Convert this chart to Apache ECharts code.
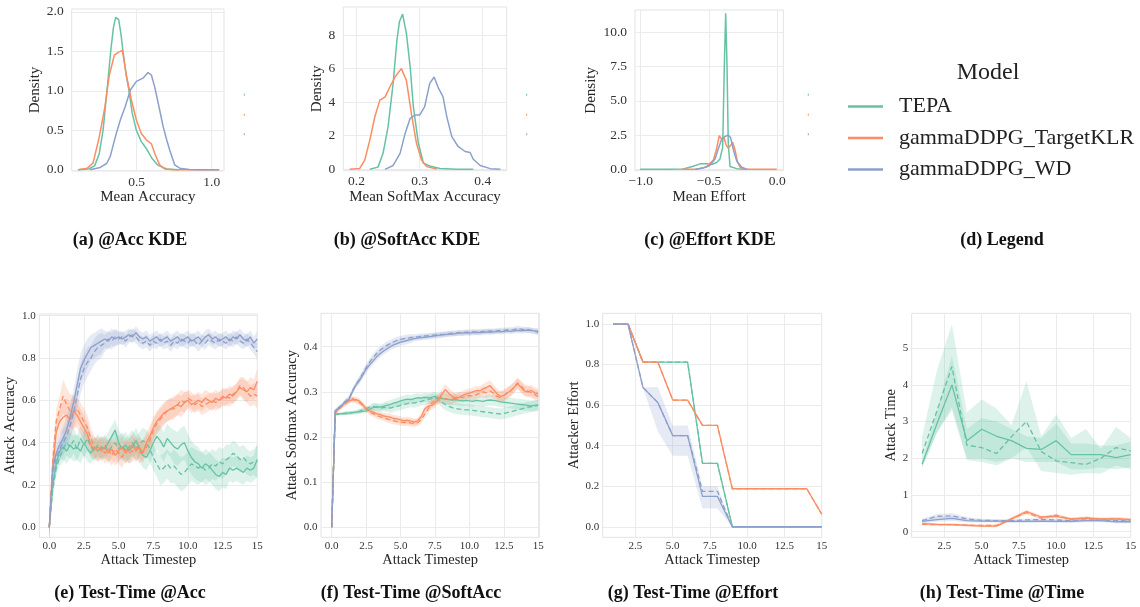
<!DOCTYPE html>
<html><head><meta charset="utf-8">
<script src="https://cdn.jsdelivr.net/npm/echarts@6/dist/echarts.min.js"></script>
<style>html,body{margin:0;padding:0;background:#fff}#c{width:1140px;height:607px}</style>
</head><body><div id="c"></div><script>
// ---------------- DATA ----------------
const models = ['TEPA', 'gammaDDPG_TargetKLR', 'gammaDDPG_WD'];

// (a) KDE of Mean Accuracy
const accKdeX_TEPA = [0.11,0.18,0.22,0.25,0.276,0.302,0.327,0.345,0.36,0.369,0.38,0.395,0.409,0.43,0.449,0.47,0.498,0.53,0.564,0.6,0.64,0.7,0.78];
const accKdeY_TEPA = [0,0.01,0.05,0.2,0.5,1.0,1.5,1.8,1.93,1.95,1.9,1.72,1.5,1.2,1.0,0.72,0.5,0.36,0.27,0.15,0.06,0.01,0];
const accKdeX_KLR = [0.11,0.17,0.209,0.249,0.287,0.318,0.351,0.38,0.405,0.431,0.464,0.498,0.531,0.564,0.598,0.62,0.653,0.687,0.75,0.9,1.05];
const accKdeY_KLR = [0,0.02,0.085,0.4,0.78,1.2,1.45,1.49,1.51,1.2,0.89,0.63,0.46,0.38,0.33,0.21,0.063,0.01,0.002,0,0];
const accKdeX_WD = [0.19,0.257,0.3,0.324,0.364,0.391,0.424,0.458,0.498,0.542,0.576,0.598,0.62,0.653,0.676,0.7,0.72,0.753,0.787,0.85,0.95,1.05];
const accKdeY_WD = [0,0.03,0.08,0.17,0.46,0.63,0.8,1.01,1.12,1.16,1.23,1.2,1.05,0.76,0.55,0.38,0.25,0.063,0.02,0.005,0,0];
const accKdeXTicks = [0.5, 1.0];
const accKdeYTicks = [0, 0.5, 1.0, 1.5, 2.0];

// (b) KDE of Mean SoftMax Accuracy
const softKdeX_TEPA = [0.221,0.234,0.242,0.25,0.258,0.264,0.268,0.273,0.279,0.285,0.29,0.298,0.306,0.316,0.332,0.36,0.385];
const softKdeY_TEPA = [0,0.13,0.95,2.54,5.12,7.7,8.8,9.25,8.1,6.1,3.73,1.55,0.36,0.2,0.05,0.01,0];
const softKdeX_KLR = [0.189,0.205,0.213,0.221,0.229,0.237,0.245,0.253,0.261,0.271,0.279,0.287,0.295,0.303,0.311,0.327];
const softKdeY_KLR = [0,0.05,0.55,1.74,3.13,4.12,4.3,4.92,5.5,6.0,5.3,3.3,1.55,0.55,0.16,0.02];
const softKdeX_WD = [0.245,0.258,0.269,0.277,0.285,0.293,0.3,0.308,0.316,0.323,0.33,0.337,0.343,0.351,0.361,0.372,0.38,0.385,0.396,0.412,0.428];
const softKdeY_WD = [0,0.23,0.95,2.14,3.04,3.23,3.23,3.73,5.12,5.5,4.82,4.33,3.14,1.95,1.36,1.06,1.0,0.6,0.23,0.04,0];
const softKdeXTicks = [0.2, 0.3, 0.4];
const softKdeYTicks = [0, 2, 4, 6, 8];

// (c) KDE of Mean Effort
const effKdeX_TEPA = [-1.005,-0.8,-0.688,-0.615,-0.566,-0.517,-0.48,-0.444,-0.42,-0.4,-0.388,-0.378,-0.368,-0.359,-0.346,-0.297,-0.224];
const effKdeY_TEPA = [0,0.01,0.02,0.23,0.4,0.4,0.35,0.5,0.75,1.6,7.5,11.4,7.5,1.9,0.2,0.05,0];
const effKdeX_KLR = [-0.7,-0.59,-0.517,-0.468,-0.444,-0.425,-0.407,-0.39,-0.376,-0.36,-0.341,-0.327,-0.31,-0.293,-0.273,-0.26,-0.236,-0.15,-0.004];
const effKdeY_KLR = [0,0.01,0.18,0.67,1.53,2.45,2.2,2.3,1.8,1.55,1.75,1.97,1.45,0.6,0.15,0.22,0,0,0];
const effKdeX_WD = [-0.6,-0.542,-0.493,-0.456,-0.432,-0.407,-0.383,-0.359,-0.341,-0.322,-0.297,-0.26,-0.22];
const effKdeY_WD = [0,0.1,0.3,0.75,1.5,2.2,2.4,2.5,2.3,1.45,0.6,0.15,0];
const effKdeXTicks = [-1.0, -0.5, 0.0];
const effKdeYTicks = [0, 2.5, 5.0, 7.5, 10.0];

// (e),(f) fine timesteps
const fineSteps = [0,0.25,0.5,0.75,1,1.25,1.5,1.75,2,2.25,2.5,2.75,3,3.25,3.5,3.75,4,4.25,4.5,4.75,5,5.25,5.5,5.75,6,6.25,6.5,6.75,7,7.25,7.5,7.75,8,8.25,8.5,8.75,9,9.25,9.5,9.75,10,10.25,10.5,10.75,11,11.25,11.5,11.75,12,12.25,12.5,12.75,13,13.25,13.5,13.75,14,14.25,14.5,14.75,15];

// (e) Attack Accuracy
const accTEPA = [0,0.2,0.3,0.36,0.38,0.36,0.39,0.37,0.38,0.36,0.4,0.37,0.35,0.38,0.36,0.38,0.37,0.4,0.43,0.46,0.4,0.37,0.39,0.36,0.38,0.41,0.37,0.34,0.33,0.36,0.4,0.43,0.41,0.38,0.42,0.4,0.38,0.37,0.39,0.4,0.36,0.33,0.31,0.3,0.28,0.3,0.29,0.27,0.25,0.24,0.26,0.25,0.28,0.27,0.28,0.27,0.26,0.28,0.27,0.28,0.32];
const accTEPA_d = [0,0.18,0.28,0.33,0.37,0.4,0.38,0.41,0.37,0.42,0.39,0.42,0.38,0.36,0.39,0.37,0.39,0.36,0.38,0.4,0.37,0.39,0.36,0.38,0.4,0.37,0.39,0.41,0.4,0.37,0.33,0.3,0.27,0.28,0.3,0.28,0.29,0.27,0.25,0.26,0.28,0.3,0.29,0.28,0.29,0.27,0.28,0.3,0.29,0.31,0.3,0.32,0.33,0.35,0.34,0.32,0.33,0.31,0.3,0.31,0.31];
const accKLR = [0,0.28,0.45,0.5,0.52,0.53,0.51,0.55,0.53,0.5,0.47,0.44,0.39,0.37,0.38,0.36,0.38,0.35,0.37,0.34,0.36,0.38,0.35,0.37,0.39,0.36,0.38,0.35,0.4,0.43,0.47,0.5,0.52,0.54,0.55,0.56,0.57,0.58,0.57,0.59,0.6,0.58,0.59,0.6,0.59,0.61,0.6,0.59,0.61,0.6,0.62,0.61,0.63,0.62,0.64,0.66,0.65,0.64,0.66,0.65,0.69];
const accKLR_d = [0,0.32,0.5,0.56,0.62,0.58,0.55,0.54,0.56,0.53,0.5,0.47,0.42,0.38,0.36,0.38,0.35,0.37,0.34,0.37,0.35,0.33,0.37,0.35,0.36,0.38,0.35,0.37,0.38,0.41,0.46,0.49,0.51,0.53,0.55,0.56,0.56,0.58,0.6,0.59,0.61,0.6,0.58,0.59,0.57,0.58,0.59,0.6,0.59,0.6,0.61,0.62,0.61,0.63,0.64,0.67,0.66,0.64,0.62,0.63,0.62];
const accWD = [0,0.28,0.35,0.39,0.42,0.46,0.52,0.59,0.67,0.75,0.79,0.82,0.85,0.86,0.87,0.88,0.89,0.88,0.9,0.89,0.9,0.89,0.9,0.91,0.9,0.92,0.9,0.89,0.9,0.88,0.89,0.9,0.88,0.89,0.9,0.88,0.89,0.9,0.88,0.89,0.9,0.88,0.89,0.9,0.88,0.9,0.91,0.89,0.9,0.88,0.89,0.9,0.88,0.9,0.89,0.91,0.89,0.88,0.9,0.87,0.89];
const accWD_d = [0,0.25,0.33,0.37,0.4,0.43,0.48,0.54,0.62,0.7,0.75,0.78,0.8,0.83,0.85,0.86,0.87,0.89,0.88,0.9,0.89,0.9,0.88,0.9,0.91,0.9,0.88,0.87,0.88,0.86,0.88,0.87,0.89,0.87,0.88,0.86,0.88,0.87,0.89,0.88,0.87,0.89,0.88,0.86,0.88,0.87,0.89,0.88,0.87,0.89,0.88,0.87,0.89,0.88,0.9,0.88,0.87,0.89,0.87,0.85,0.83];
const accHalfBand_TEPA = [0.04,0.06,0.06,0.05,0.05,0.06,0.06,0.06,0.07,0.08,0.08,0.07,0.07,0.06,0.06,0.08];
const accHalfBand_KLR = [0.06,0.08,0.06,0.05,0.05,0.05,0.05,0.05,0.05,0.05,0.04,0.04,0.04,0.04,0.05,0.06];
const accHalfBand_WD = [0.05,0.06,0.07,0.06,0.04,0.03,0.03,0.03,0.03,0.03,0.03,0.03,0.03,0.03,0.03,0.04];
const timeXTicks0 = [0, 2.5, 5, 7.5, 10, 12.5, 15];
const accYTicks = [0, 0.2, 0.4, 0.6, 0.8, 1.0];

// (f) Attack Softmax Accuracy
const softTEPA = [0,0.25,0.251,0.252,0.253,0.253,0.254,0.255,0.256,0.257,0.258,0.262,0.265,0.267,0.266,0.268,0.27,0.272,0.275,0.277,0.28,0.282,0.284,0.283,0.285,0.287,0.286,0.288,0.287,0.288,0.29,0.287,0.285,0.284,0.283,0.282,0.283,0.281,0.28,0.281,0.28,0.279,0.281,0.28,0.279,0.281,0.282,0.281,0.28,0.278,0.277,0.276,0.275,0.274,0.273,0.272,0.271,0.27,0.269,0.27,0.271];
const softTEPA_d = [0,0.25,0.251,0.252,0.252,0.253,0.254,0.255,0.257,0.26,0.263,0.266,0.268,0.266,0.264,0.265,0.266,0.264,0.266,0.268,0.27,0.272,0.274,0.276,0.275,0.277,0.279,0.281,0.283,0.285,0.287,0.283,0.277,0.272,0.268,0.265,0.263,0.262,0.261,0.26,0.26,0.259,0.258,0.257,0.256,0.255,0.254,0.253,0.252,0.251,0.252,0.254,0.256,0.258,0.26,0.262,0.264,0.266,0.267,0.268,0.27];
const softKLR = [0,0.255,0.262,0.27,0.277,0.28,0.282,0.283,0.28,0.272,0.262,0.258,0.255,0.252,0.25,0.247,0.245,0.244,0.241,0.24,0.238,0.236,0.237,0.235,0.233,0.236,0.245,0.262,0.268,0.27,0.275,0.283,0.295,0.305,0.297,0.29,0.285,0.288,0.292,0.295,0.297,0.3,0.303,0.302,0.306,0.31,0.314,0.305,0.296,0.29,0.292,0.298,0.302,0.31,0.318,0.31,0.302,0.3,0.303,0.298,0.296];
const softKLR_d = [0,0.253,0.26,0.268,0.274,0.28,0.285,0.281,0.277,0.27,0.262,0.255,0.252,0.248,0.245,0.243,0.24,0.238,0.236,0.234,0.233,0.232,0.233,0.231,0.23,0.232,0.238,0.25,0.262,0.275,0.28,0.285,0.288,0.286,0.283,0.285,0.288,0.29,0.287,0.29,0.292,0.29,0.294,0.297,0.3,0.298,0.302,0.297,0.29,0.288,0.292,0.297,0.303,0.31,0.32,0.313,0.305,0.302,0.298,0.294,0.29];
const softWD = [0,0.258,0.264,0.27,0.278,0.283,0.3,0.315,0.325,0.337,0.35,0.36,0.368,0.377,0.384,0.39,0.395,0.4,0.404,0.407,0.41,0.412,0.414,0.416,0.418,0.419,0.42,0.421,0.422,0.423,0.424,0.425,0.426,0.427,0.428,0.428,0.429,0.43,0.43,0.431,0.43,0.431,0.432,0.431,0.432,0.433,0.432,0.433,0.434,0.433,0.434,0.435,0.434,0.435,0.436,0.435,0.436,0.437,0.436,0.435,0.434];
const softWD_d = [0,0.258,0.265,0.272,0.279,0.285,0.302,0.316,0.327,0.34,0.354,0.366,0.376,0.385,0.392,0.398,0.403,0.407,0.411,0.414,0.416,0.418,0.419,0.42,0.421,0.422,0.423,0.424,0.424,0.425,0.426,0.427,0.427,0.428,0.429,0.43,0.43,0.431,0.431,0.432,0.432,0.433,0.432,0.433,0.434,0.434,0.435,0.434,0.435,0.436,0.436,0.437,0.437,0.438,0.44,0.439,0.438,0.437,0.436,0.434,0.432];
const softHalfBand_TEPA = [0.003,0.004,0.005,0.008,0.01,0.01,0.01,0.01,0.012,0.012,0.012,0.012,0.012,0.012,0.012,0.012];
const softHalfBand_KLR = [0.004,0.006,0.006,0.007,0.008,0.008,0.008,0.01,0.012,0.01,0.01,0.012,0.012,0.012,0.012,0.012];
const softHalfBand_WD = [0.004,0.006,0.008,0.008,0.008,0.008,0.006,0.006,0.006,0.006,0.006,0.006,0.006,0.006,0.006,0.007];
const softYTicks = [0, 0.1, 0.2, 0.3, 0.4];

// (g),(h) integer timesteps
const steps = [1,2,3,4,5,6,7,8,9,10,11,12,13,14,15];
const timeXTicks1 = [2.5, 5, 7.5, 10, 12.5, 15];

// (g) Attacker Effort
const effTEPA = [1,1,0.8125,0.8125,0.8125,0.8125,0.3125,0.3125,0,0,0,0,0,0,0];
const effKLR = [1,1,0.8125,0.8125,0.625,0.625,0.5,0.5,0.1875,0.1875,0.1875,0.1875,0.1875,0.1875,0.0625];
const effWD = [1,1,0.6875,0.6125,0.45,0.45,0.15,0.15,0,0,0,0,0,0,0];
const effWD_d = [1,1,0.6875,0.6125,0.45,0.45,0.175,0.175,0,0,0,0,0,0,0];
const effWD_lo = [1,1,0.6875,0.47,0.35,0.35,0.09,0.09,0,0,0,0,0,0,0];
const effWD_hi = [1,1,0.6875,0.69,0.5,0.5,0.2,0.2,0,0,0,0,0,0,0];
const effYTicks = [0, 0.2, 0.4, 0.6, 0.8, 1.0];

// (h) Attack Time
const timeTEPA = [1.84,2.95,4.0,2.48,2.79,2.6,2.48,2.27,2.24,2.48,2.1,2.1,2.1,2.02,2.1];
const timeTEPA_d = [2.13,3.3,4.5,2.36,2.29,2.13,2.59,3.0,2.18,1.93,1.88,1.83,2.0,2.29,2.2];
const timeTEPA_lo = [1.75,2.7,3.4,2.0,2.0,1.9,2.0,1.9,1.9,1.9,1.7,1.7,1.75,1.7,1.75];
const timeTEPA_hi = [1.9,3.3,4.8,2.8,3.1,3.0,2.8,2.6,2.55,2.95,2.4,2.4,2.35,2.35,2.45];
const timeTEPA_dlo = [1.75,2.7,3.3,1.95,1.9,1.8,2.0,2.3,1.65,1.6,1.55,1.6,1.58,1.8,1.7];
const timeTEPA_dhi = [2.6,4.4,5.65,3.25,3.6,3.35,2.9,4.1,2.6,3.2,2.55,2.8,2.25,2.85,2.55];
const timeKLR = [0.22,0.2,0.19,0.17,0.15,0.15,0.35,0.55,0.4,0.42,0.35,0.37,0.35,0.35,0.33];
const timeKLR_d = [0.2,0.19,0.19,0.18,0.17,0.17,0.35,0.52,0.37,0.45,0.33,0.38,0.33,0.35,0.33];
const timeWD = [0.28,0.33,0.36,0.3,0.29,0.29,0.28,0.28,0.29,0.28,0.28,0.3,0.3,0.27,0.27];
const timeWD_d = [0.3,0.42,0.43,0.35,0.31,0.3,0.3,0.32,0.33,0.32,0.3,0.32,0.31,0.31,0.29];
const timeHalfBand_KLR = [0.03,0.03,0.03,0.03,0.03,0.03,0.04,0.05,0.04,0.04,0.04,0.04,0.04,0.04,0.04];
const timeHalfBand_WD = [0.05,0.06,0.07,0.05,0.04,0.04,0.04,0.04,0.04,0.04,0.04,0.04,0.04,0.04,0.04];
const timeYTicks = [0, 1, 2, 3, 4, 5];

// ---------------- CHART ----------------
const FONT = "'Liberation Serif','DejaVu Serif','Times New Roman',serif";
const COL = {TEPA: '#66c2a5', KLR: '#fc8d62', WD: '#8da0cb'};
const BAND = {TEPA: 'rgba(102,194,165,0.22)', KLR: 'rgba(252,141,98,0.22)', WD: 'rgba(141,160,203,0.22)'};
const f1 = v => v.toFixed(1);
const fInt = v => String(v);
const fMinus = v => v.toFixed(1).replace('-', '\u2212');
const fStep = v => (v === 15 ? '15' : v.toFixed(1));

const panels = [
  {grid:[71.7,9,152.3,162], x:[0.067,1.082], y:[-0.015,2.035], xt:accKdeXTicks, yt:accKdeYTicks, xf:f1, yf:f1, xn:'Mean Accuracy', yn:'Density', lf:13.5, nf:15, xm:4, ym:8, xg:17.5, yg:26},
  {grid:[343.3,7,163.4,163.7], x:[0.179,0.438], y:[-0.083,9.67], xt:softKdeXTicks, yt:softKdeYTicks, xf:f1, yf:fInt, xn:'Mean SoftMax Accuracy', yn:'Density', lf:13.5, nf:15, xm:4, ym:8, xg:17.5, yg:16.5},
  {grid:[635,10,148.3,160.7], x:[-1.042,0.044], y:[-0.1,11.63], xt:effKdeXTicks, yt:effKdeYTicks, xf:fMinus, yf:f1, xn:'Mean Effort', yn:'Density', lf:13.5, nf:15, xm:4, ym:8, xg:17.5, yg:36.5},
  {grid:[39.3,314,218,223.3], x:[-0.72,15.0], y:[-0.047,1.008], xt:timeXTicks0, yt:accYTicks, xf:fStep, yf:f1, xn:'Attack Timestep', yn:'Attack Accuracy', lf:11, nf:14.5, xm:3, ym:3.5, xg:11.5, yg:17.5},
  {grid:[321,313.3,218.3,224], x:[-0.78,15.08], y:[-0.0221,0.474], xt:timeXTicks0, yt:softYTicks, xf:fStep, yf:f1, xn:'Attack Timestep', yn:'Attack Softmax Accuracy', lf:11, nf:14.5, xm:3, ym:3.5, xg:11.5, yg:17.5},
  {grid:[602.7,313.3,219,224], x:[0.3,15.0], y:[-0.052,1.053], xt:timeXTicks1, yt:effYTicks, xf:fStep, yf:f1, xn:'Attack Timestep', yn:'Attacker Effort', lf:11, nf:14.5, xm:3, ym:3.5, xg:11.5, yg:17.5},
  {grid:[911.7,313.3,219,224], x:[0.3,15.0], y:[-0.153,5.95], xt:timeXTicks1, yt:timeYTicks, xf:fStep, yf:fInt, xn:'Attack Timestep', yn:'Attack Time', lf:11, nf:14.5, xm:3, ym:3.5, xg:11.5, yg:8.5}
];

const grids = [], xAxes = [], yAxes = [];
panels.forEach((p, i) => {
  grids.push({left:p.grid[0], top:p.grid[1], width:p.grid[2], height:p.grid[3], show:true, borderColor:'#e3e3e3', borderWidth:1, backgroundColor:'transparent', containLabel:false});
  const common = (ticks, fmt, margin, name, gap) => ({
    gridIndex:i, type:'value', scale:true,
    axisLine:{show:false, onZero:false},
    axisTick:{show:false, customValues:ticks},
    splitLine:{show:true, lineStyle:{color:'#ebebeb', width:1}},
    axisLabel:{customValues:ticks, formatter:fmt, margin:margin, fontFamily:FONT, fontSize:p.lf, color:'#333'},
    name:name, nameLocation:'middle', nameGap:gap,
    nameTextStyle:{fontFamily:FONT, fontSize:p.nf, color:'#262626'}
  });
  xAxes.push(Object.assign(common(p.xt, p.xf, p.xm, p.xn, p.xg), {min:p.x[0], max:p.x[1]}));
  yAxes.push(Object.assign(common(p.yt, p.yf, p.ym, p.yn, p.yg), {min:p.y[0], max:p.y[1]}));
});

function lineS(gi, xs, ys, color, name, dashed, w) {
  return {type:'line', name:name, xAxisIndex:gi, yAxisIndex:gi,
    data: xs.map((x, k) => [x, ys[k]]), symbol:'none', showSymbol:false, smooth:false,
    clip:true, silent:true, z:3,
    lineStyle:{color:color, width:w || 1.5, type: dashed ? [5, 3] : 'solid'}, itemStyle:{color:color}};
}
function bandS(gi, xs, lo, hi, fill) {
  return {type:'custom', xAxisIndex:gi, yAxisIndex:gi, silent:true, z:1,
    data: xs.map((x, k) => [x, lo[k], hi[k]]),
    renderItem: function (params, api) {
      if (params.dataIndex !== 0) return null;
      const pts = [];
      for (let k = 0; k < xs.length; k++) pts.push(api.coord([xs[k], hi[k]]));
      for (let k = xs.length - 1; k >= 0; k--) pts.push(api.coord([xs[k], lo[k]]));
      const cs = params.coordSys;
      return {type:'polygon', shape:{points:pts}, style:{fill:fill},
        clipPath:{type:'rect', shape:{x:cs.x, y:cs.y, width:cs.width, height:cs.height}}};
    }};
}
function bandFromHalf(xs, ys, half, idxOf) {
  return [ys.map((v, k) => v - half[idxOf(xs[k], k)]), ys.map((v, k) => v + half[idxOf(xs[k], k)])];
}
const segIdx = (t) => Math.floor(t);
const ptIdx = (t, k) => k;

const series = [];
// (a)
series.push(lineS(0, accKdeX_TEPA, accKdeY_TEPA, COL.TEPA, models[0], false, 1.5));
series.push(lineS(0, accKdeX_KLR, accKdeY_KLR, COL.KLR, models[1], false, 1.5));
series.push(lineS(0, accKdeX_WD, accKdeY_WD, COL.WD, models[2], false, 1.5));
// (b)
series.push(lineS(1, softKdeX_TEPA, softKdeY_TEPA, COL.TEPA, models[0], false, 1.5));
series.push(lineS(1, softKdeX_KLR, softKdeY_KLR, COL.KLR, models[1], false, 1.5));
series.push(lineS(1, softKdeX_WD, softKdeY_WD, COL.WD, models[2], false, 1.5));
// (c)
series.push(lineS(2, effKdeX_TEPA, effKdeY_TEPA, COL.TEPA, models[0], false, 1.5));
series.push(lineS(2, effKdeX_KLR, effKdeY_KLR, COL.KLR, models[1], false, 1.5));
series.push(lineS(2, effKdeX_WD, effKdeY_WD, COL.WD, models[2], false, 1.5));

// (e) & (f) : bands + lines
[[3, [accTEPA, accTEPA_d, accHalfBand_TEPA], [accKLR, accKLR_d, accHalfBand_KLR], [accWD, accWD_d, accHalfBand_WD]],
 [4, [softTEPA, softTEPA_d, softHalfBand_TEPA], [softKLR, softKLR_d, softHalfBand_KLR], [softWD, softWD_d, softHalfBand_WD]]
].forEach(([gi, t, k, w]) => {
  const keys = ['TEPA', 'KLR', 'WD'];
  [t, k, w].forEach((m, mi) => {
    const b1 = bandFromHalf(fineSteps, m[0], m[2], segIdx);
    const b2 = bandFromHalf(fineSteps, m[1], m[2], segIdx);
    series.push(bandS(gi, fineSteps, b1[0], b1[1], BAND[keys[mi]]));
    series.push(bandS(gi, fineSteps, b2[0], b2[1], BAND[keys[mi]]));
  });
  [t, k, w].forEach((m, mi) => {
    series.push(lineS(gi, fineSteps, m[0], COL[keys[mi]], models[mi], false, 1.3));
    series.push(lineS(gi, fineSteps, m[1], COL[keys[mi]], models[mi], true, 1.3));
  });
});

// (g)
series.push(bandS(5, steps, effWD_lo, effWD_hi, BAND.WD));
series.push(lineS(5, steps, effTEPA, COL.TEPA, models[0], true, 1.3));
series.push(lineS(5, steps, effTEPA, COL.TEPA, models[0], false, 1.3));
series.push(lineS(5, steps, effKLR, COL.KLR, models[1], true, 1.3));
series.push(lineS(5, steps, effKLR, COL.KLR, models[1], false, 1.3));
series.push(lineS(5, steps, effWD_d, COL.WD, models[2], true, 1.3));
series.push(lineS(5, steps, effWD, COL.WD, models[2], false, 1.3));

// (h)
series.push(bandS(6, steps, timeTEPA_dlo, timeTEPA_dhi, BAND.TEPA));
series.push(bandS(6, steps, timeTEPA_lo, timeTEPA_hi, BAND.TEPA));
{
  const bk1 = bandFromHalf(steps, timeKLR, timeHalfBand_KLR, ptIdx);
  const bk2 = bandFromHalf(steps, timeKLR_d, timeHalfBand_KLR, ptIdx);
  const bw1 = bandFromHalf(steps, timeWD, timeHalfBand_WD, ptIdx);
  const bw2 = bandFromHalf(steps, timeWD_d, timeHalfBand_WD, ptIdx);
  series.push(bandS(6, steps, bk1[0], bk1[1], BAND.KLR));
  series.push(bandS(6, steps, bk2[0], bk2[1], BAND.KLR));
  series.push(bandS(6, steps, bw1[0], bw1[1], BAND.WD));
  series.push(bandS(6, steps, bw2[0], bw2[1], BAND.WD));
}
series.push(lineS(6, steps, timeTEPA, COL.TEPA, models[0], false, 1.3));
series.push(lineS(6, steps, timeTEPA_d, COL.TEPA, models[0], true, 1.3));
series.push(lineS(6, steps, timeKLR, COL.KLR, models[1], false, 1.3));
series.push(lineS(6, steps, timeKLR_d, COL.KLR, models[1], true, 1.3));
series.push(lineS(6, steps, timeWD, COL.WD, models[2], false, 1.3));
series.push(lineS(6, steps, timeWD_d, COL.WD, models[2], true, 1.3));

// captions and small marks
const captions = [
  ['(a) @Acc KDE', 130, 240], ['(b) @SoftAcc KDE', 407, 240], ['(c) @Effort KDE', 710, 240], ['(d) Legend', 1002, 240],
  ['(e) Test-Time @Acc', 130, 593], ['(f) Test-Time @SoftAcc', 411, 593], ['(g) Test-Time @Effort', 693, 593], ['(h) Test-Time @Time', 1002, 593]
];
const graphics = captions.map(c => ({type:'text', x:c[1], y:c[2], silent:true,
  style:{text:c[0], fill:'#111', font:"bold 18px " + FONT, textAlign:'center', textVerticalAlign:'middle'}}));
graphics.push({type:'text', x:988, y:73, silent:true,
  style:{text:'Model', fill:'#222', font:"24px " + FONT, textAlign:'center', textVerticalAlign:'middle'}});
[244.3, 526.7, 808.3].forEach(mx => {
  [[94.7, COL.TEPA], [114.7, COL.KLR], [134.3, COL.WD]].forEach(([my, c]) => {
    graphics.push({type:'rect', silent:true, shape:{x:mx - 0.5, y:my - 1, width:1, height:2}, style:{fill:c}});
  });
});

const option = {
  animation:false,
  backgroundColor:'#ffffff',
  grid:grids, xAxis:xAxes, yAxis:yAxes, series:series,
  legend:{show:true, orient:'vertical', left:843, top:90.5, padding:5, itemWidth:35, itemHeight:20, itemGap:9.5,
    icon:'path://M0,0 L35,0 L35,2.4 L0,2.4 Z', symbolKeepAspect:true,
    selectedMode:false, data:models,
    textStyle:{fontFamily:FONT, fontSize:22, color:'#222', padding:[0,0,0,11]}},
  graphic:graphics
};
const chart = echarts.init(document.getElementById('c'), null, {renderer:'canvas'});
chart.setOption(option);
</script></body></html>
